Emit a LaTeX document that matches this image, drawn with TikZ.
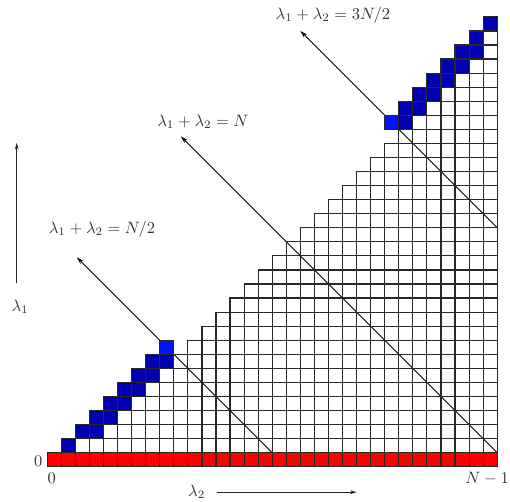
\documentclass[tikz,border=0pt]{standalone}
\usetikzlibrary{arrows.meta}
\definecolor{navy}{RGB}{0,0,175}
\definecolor{brightblue}{RGB}{0,20,255}
\definecolor{cellred}{RGB}{255,0,0}
\definecolor{gridline}{RGB}{40,40,40}
\tikzset{
  cellw/.style={draw=gridline, line width=0.7pt},
  celln/.style={cellw, fill=navy},
  cellb/.style={cellw, fill=brightblue},
  cellr/.style={cellw, fill=cellred},
  diag/.style={draw=black, line width=0.55pt, -{Stealth[length=4.5pt,width=2.6pt]}},
  axis/.style={draw=black!85, line width=0.6pt, -{Stealth[length=4pt,width=2.4pt]}},
  lbl/.style={text=black!80, inner sep=0pt},
}
\begin{document}
\begin{tikzpicture}[x=8.534pt,y=8.534pt]
\useasboundingbox (-3.364,-2.504) rectangle (32.91,33.2);
% diagonal guide lines
\coordinate (d1s) at (16,1);  \coordinate (d1e) at (2.1,14.9);
\coordinate (d2s) at (32,1);  \coordinate (d2e) at (9.5,23.5);
\coordinate (d3s) at (32,17); \coordinate (d3e) at (18,31);
\draw[diag] (d1s) -- (d1e);
\draw[diag] (d2s) -- (d2e);
\draw[diag] (d3s) -- (d3e);
% white cells
\draw[cellw] (2,1) rectangle ++(1,1);
\foreach \r in {1,...,29} {
  \pgfmathtruncatemacro\s{\r+2}
  \foreach \c in {\s,...,31} {\draw[cellw] (\c,\r) rectangle ++(1,1);}
}
\draw[cellw] (31,30) rectangle ++(1,1);
% red bottom row
\foreach \c in {0,...,31} {\draw[cellr] (\c,0) rectangle ++(1,1);}
% navy cells
\draw[celln] (1,1) rectangle ++(1,1);
\foreach \r in {2,...,7,25,26,27,28,29} {
  \draw[celln] (\r,\r) rectangle ++(1,1);
  \draw[celln] (\r+1,\r) rectangle ++(1,1);
}
\draw[celln] (25,24) rectangle ++(1,1);
\draw[celln] (30,30) rectangle ++(1,1);
\draw[celln] (31,31) rectangle ++(1,1);
% bright cells
\draw[cellb] (8,8) rectangle ++(1,1);
\draw[cellb] (24,24) rectangle ++(1,1);
% labels
\node[lbl] (l1) at (3.89,16.91) {$\lambda_1+\lambda_2=N/2$};
\node[lbl] (l2) at (11.07,24.54) {$\lambda_1+\lambda_2=N$};
\node[lbl] (l3) at (20.32,32.13) {$\lambda_1+\lambda_2=3N/2$};
\node[lbl] (z1) at (-0.64,0.40) {$0$};
\node[lbl] (z2) at (0.31,-0.82) {$0$};
\node[lbl, anchor=east] (nm) at (32.85,-0.87) {$N-1$};
% axes
\coordinate (a1s) at (-2.176,13.05); \coordinate (a1e) at (-2.176,23.03);
\draw[axis] (a1s) -- (a1e);
\node[lbl] (lam1) at (-1.94,11.39) {$\lambda_1$};
\coordinate (a2s) at (12.05,-1.81); \coordinate (a2e) at (22.0,-1.81);
\draw[axis] (a2s) -- (a2e);
\node[lbl] (lam2) at (10.63,-1.79) {$\lambda_2$};
\end{tikzpicture}
\end{document}
